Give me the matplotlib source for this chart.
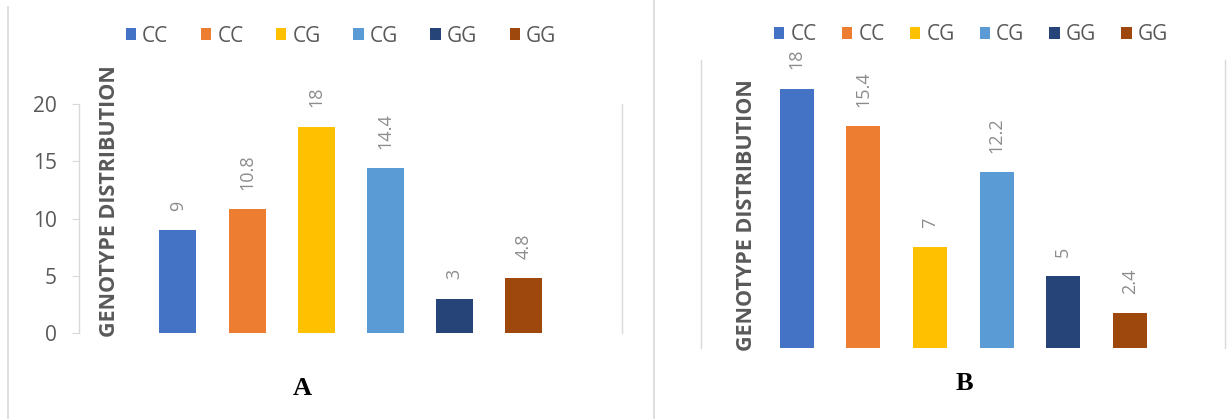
import matplotlib.pyplot as plt
from matplotlib.lines import Line2D
from matplotlib.patches import Patch
import numpy as np

# genotype data for the two panels
genotypes = ['CC', 'CC', 'CG', 'CG', 'GG', 'GG']
valuesA = [9, 10.8, 18, 14.4, 3, 4.8]
valuesB = [18, 15.4, 7, 12.2, 5, 2.4]
yticksA = [0, 5, 10, 15, 20]
colors = ['#4472C4', '#ED7D31', '#FFC000', '#5B9BD5', '#264478', '#9E480E']

plt.rcParams['font.family'] = ['Open Sans', 'DejaVu Sans']

fig = plt.figure(figsize=(12.27, 4.19), dpi=100)
fig.patch.set_facecolor('white')

W, H = 1227.0, 419.0
def fx(px):
    return px / W
def fy(py):
    return 1 - py / H

axA = fig.add_axes([fx(79), fy(333), fx(622) - fx(79), fy(104) - fy(333)])
axB = fig.add_axes([fx(701), fy(348), fx(1225) - fx(701), fy(60) - fy(348)])

gridc = '#D9D9D9'
x = np.arange(len(genotypes))

for ax, vals, lims, bw in [(axA, valuesA, (-1.43, 6.42), 0.535),
                           (axB, valuesB, (-1.44, 6.43), 0.51)]:
    ax.bar(x, vals, width=bw, color=colors)
    for i, v in enumerate(vals):
        ax.annotate('{:g}'.format(v), (i, v), xytext=(0, 14), textcoords='offset points',
                    rotation=90, ha='center', va='bottom', fontsize=13, color='#8C8C8C')
    ax.set_xlim(*lims)
    ax.set_ylim(0, 20)
    ax.set_xticks([])
    for s in ['top', 'bottom']:
        ax.spines[s].set_visible(False)
    for s in ['left', 'right']:
        ax.spines[s].set_color(gridc)
        ax.spines[s].set_linewidth(1.0)
    ax.patch.set_alpha(0)

axA.set_yticks(yticksA)
axA.tick_params(axis='y', length=5, width=0.8, color=gridc, labelsize=15,
                labelcolor='#595959', pad=11)
axB.set_yticks([])

# axis titles inside the plot areas
fig.text(fx(110), fy(201), 'GENOTYPE DISTRIBUTION', rotation=90, ha='center', va='center',
         fontsize=15.5, fontweight='bold', color='#595959')
fig.text(fx(746), fy(215), 'GENOTYPE DISTRIBUTION', rotation=90, ha='center', va='center',
         fontsize=15.5, fontweight='bold', color='#595959')

handles = [Patch(facecolor=c, edgecolor='none') for c in colors]
axA.legend(handles, genotypes, loc='center', bbox_to_anchor=(fx(341), fy(36)),
           bbox_transform=fig.transFigure, ncol=6, frameon=False, fontsize=15,
           handlelength=0.5, handleheight=0.5, handletextpad=0.3, columnspacing=1.55,
           labelcolor='#595959')
axB.legend(handles, genotypes, loc='center', bbox_to_anchor=(fx(971), fy(35)),
           bbox_transform=fig.transFigure, ncol=6, frameon=False, fontsize=15,
           handlelength=0.5, handleheight=0.5, handletextpad=0.3, columnspacing=1.2,
           labelcolor='#595959')

# panel letters
fig.text(fx(302), fy(388), 'A', ha='center', va='center', fontsize=19,
         fontweight='bold', family='Liberation Serif', color='black')
fig.text(fx(964), fy(383), 'B', ha='center', va='center', fontsize=19,
         fontweight='bold', family='Liberation Serif', color='black')

# frame lines of the composite image
fig.add_artist(Line2D([fx(8), fx(8)], [fy(7), 0], color=gridc, lw=1.2))
fig.add_artist(Line2D([fx(654), fx(654)], [1, 0], color=gridc, lw=1.2))

fig.savefig('out.png', dpi=100, facecolor='white')
